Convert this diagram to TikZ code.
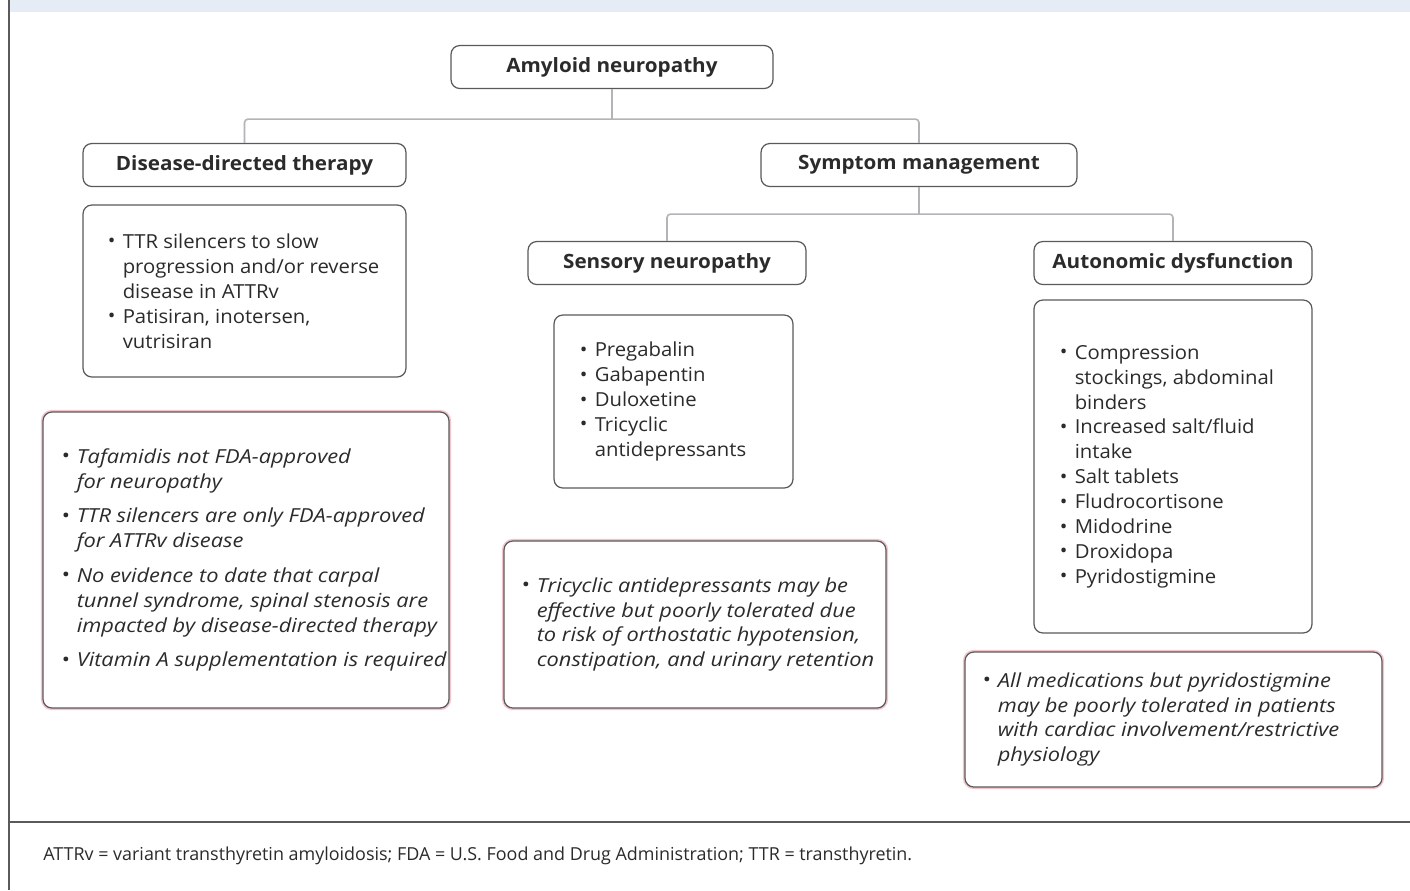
\documentclass[tikz,border=0pt]{standalone}
\usepackage{fontspec}
\setmainfont{Open Sans}
\newfontfamily\widefont[FakeStretch=1.05]{Open Sans}
\newfontfamily\wideital[FakeStretch=1.13]{Open Sans}
\usetikzlibrary{positioning,calc}
\definecolor{txt}{HTML}{2B2B2B}
\definecolor{boxgray}{HTML}{5A5A5A}
\definecolor{linkgray}{HTML}{B4B4B8}
\definecolor{notepink}{HTML}{F2C4CC}
\definecolor{bandblue}{HTML}{E6ECF6}
\newcommand{\bul}{\makebox[0.3cm][l]{\raisebox{0.05ex}{\upshape •}}}
\newcommand{\ind}{\hspace*{0.3cm}}
\tikzset{
  headbox/.style={draw=boxgray, line width=0.7pt, rounded corners=5pt, fill=white,
    minimum height=0.86cm, text=txt, font=\widefont\fontsize{11.2}{13}\selectfont\bfseries},
  listbox/.style={draw=boxgray, line width=0.7pt, rounded corners=5pt, fill=white},
  notebox/.style={listbox, preaction={draw=notepink, line width=2.4pt}},
  listtext/.style={align=left, inner sep=0pt, text=txt, font=\widefont\fontsize{11}{14.17}\selectfont},
  notetext/.style={listtext, font=\wideital\fontsize{11}{14.17}\selectfont\itshape},
  link/.style={draw=linkgray, line width=0.9pt, rounded corners=2pt}
}
\begin{document}
\begin{tikzpicture}[x=0.02cm, y=-0.02cm]
  \useasboundingbox (0,0) rectangle (1410,890);
  \fill[white] (0,0) rectangle (1410,890);
  \fill[bandblue] (10,0) rectangle (1410,12);
  \draw[boxgray, line width=1.2pt] (9,0) -- (9,890);
  \draw[boxgray, line width=1.2pt] (9,822) -- (1410,822);

  % top level
  \node[headbox, minimum width=6.44cm] (amyloid) at (612,67) {Amyloid neuropathy};
  \node[headbox, minimum width=6.46cm] (disease) at (244.5,165) {Disease-directed therapy};
  \node[headbox, minimum width=6.32cm] (symptom) at (919,165) {Symptom management};
  \coordinate (split1) at ($(amyloid.south)+(0,30)$);

  % disease-directed branch
  \node[listbox, minimum width=6.46cm, minimum height=3.44cm] (dislist) at (244.5,291) {};
  \node[listtext, right=0.5cm of dislist.west] (distext)
    {\bul TTR silencers to slow\\ \ind progression and/or reverse\\ \ind disease in ATTRv\\
     \bul Patisiran, inotersen,\\ \ind vutrisiran};
  \node[notebox, minimum width=8.12cm, minimum height=5.92cm] (disnote) at (246,560) {};
  \node[notetext, right=0.38cm of disnote.west] (disnotetext)
    {\bul Tafamidis not FDA-approved\\ \ind for neuropathy\\[5.5pt]
     \bul TTR silencers are only FDA-approved\\ \ind for ATTRv disease\\[5.5pt]
     \bul No evidence to date that carpal\\ \ind tunnel syndrome, spinal stenosis are\\ \ind impacted by disease-directed therapy\\[5.5pt]
     \bul Vitamin A supplementation is required};

  % symptom branch
  \node[headbox, minimum width=5.56cm] (sensory) at (667,263) {Sensory neuropathy};
  \node[headbox, minimum width=5.56cm] (autonomic) at (1173,263) {Autonomic dysfunction};
  \coordinate (split2) at ($(symptom.south)+(0,27)$);

  \node[listbox, minimum width=4.78cm, minimum height=3.46cm] (senslist) at (673.5,401.5) {};
  \node[listtext, right=0.52cm of senslist.west] (senstext)
    {\bul Pregabalin\\ \bul Gabapentin\\ \bul Duloxetine\\ \bul Tricyclic\\ \ind antidepressants};
  \node[notebox, minimum width=7.64cm, minimum height=3.34cm] (sensnote) at (695,624.5) {};
  \node[notetext, right=0.36cm of sensnote.west] (sensnotetext)
    {\bul Tricyclic antidepressants may be\\ \ind effective but poorly tolerated due\\
     \ind to risk of orthostatic hypotension,\\ \ind constipation, and urinary retention};

  \node[listbox, minimum width=5.56cm, minimum height=6.66cm] (autolist) at (1173,466.5) {};
  \node[listtext, right=0.52cm of autolist.west] (autotext)
    {\bul Compression\\ \ind stockings, abdominal\\ \ind binders\\ \bul Increased salt/fluid\\ \ind intake\\
     \bul Salt tablets\\ \bul Fludrocortisone\\ \bul Midodrine\\ \bul Droxidopa\\ \bul Pyridostigmine};
  \node[notebox, minimum width=8.34cm, minimum height=2.7cm] (autonote) at (1173.5,719.5) {};
  \node[notetext, right=0.36cm of autonote.west] (autonotetext)
    {\bul All medications but pyridostigmine\\ \ind may be poorly tolerated in patients\\
     \ind with cardiac involvement/restrictive\\ \ind physiology};

  % connectors
  \draw[link] (amyloid.south) -- (split1);
  \draw[link] (disease.north) |- (split1) -| (symptom.north);
  \draw[link] (symptom.south) -- (split2);
  \draw[link] (sensory.north) |- (split2) -| (autonomic.north);

  % footnote
  \node[anchor=west, inner sep=0pt, text=txt, font=\fontsize{10.2}{12}\selectfont] (foot) at (43,856)
    {ATTRv = variant transthyretin amyloidosis; FDA = U.S. Food and Drug Administration; TTR = transthyretin.};
\end{tikzpicture}
\end{document}
